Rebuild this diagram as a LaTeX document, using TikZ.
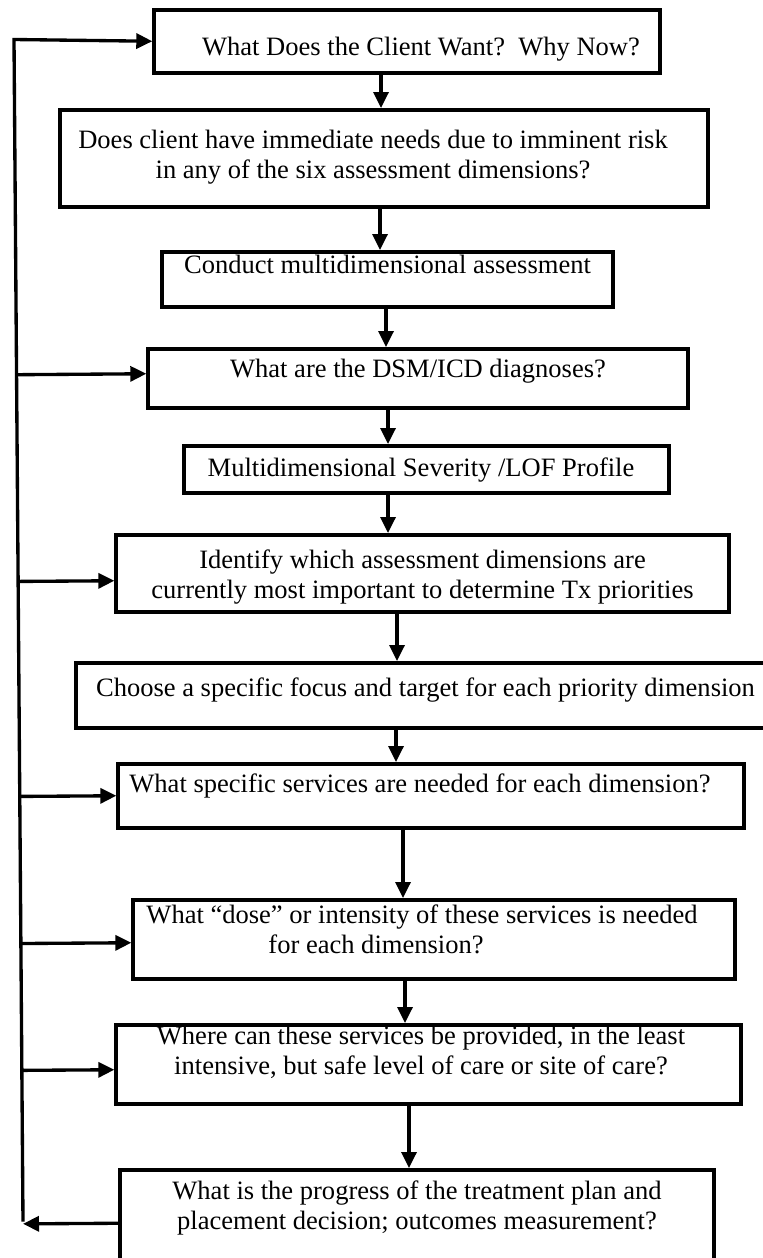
\documentclass[tikz,border=0pt]{standalone}
\usepackage{fontspec}
\setmainfont{Liberation Serif}
\usetikzlibrary{arrows.meta,calc}
\frenchspacing

\begin{document}
\begin{tikzpicture}[x=0.02cm,y=-0.02cm,
  every node/.style={font=\fontsize{15.1}{17.1}\selectfont},
  stage/.style={draw,line width=2pt,align=center,anchor=north,
                inner xsep=0pt,inner ysep=0pt},
  flow/.style={line width=1.9pt,-{Triangle[length=0.32cm,width=0.3cm]}}
]
\useasboundingbox (0,0) rectangle (763,1258);

\node[stage,minimum width=10.12cm,text height=0.92cm,text depth=0.34cm] (B1) at (407,8)
  {\hspace*{0.56cm}What Does the Client Want?\ \ Why Now?};
\node[stage,minimum width=12.96cm,text height=1.38cm,text depth=0.56cm] (B2) at (384,108)
  {Does client have immediate needs due to imminent risk\hspace*{0.44cm}\\in any of the six assessment dimensions?\hspace*{0.44cm}};
\node[stage,minimum width=9.02cm,text height=0.44cm,text depth=0.66cm] (B3) at (387.5,250)
  {Conduct multidimensional assessment};
\node[stage,minimum width=10.80cm,text height=0.58cm,text depth=0.60cm] (B4) at (418,347)
  {What are the DSM/ICD diagnoses?};
\node[stage,minimum width=9.70cm,text height=0.62cm,text depth=0.32cm] (B5) at (426.5,444)
  {Multidimensional Severity /LOF Profile\hspace*{0.22cm}};
\node[stage,minimum width=12.26cm,text height=1.28cm,text depth=0.26cm] (B6) at (422.5,533)
  {Identify which assessment dimensions are\\currently most important to determine Tx priorities};
\node[stage,minimum width=13.98cm,text height=0.68cm,text depth=0.62cm] (B7) at (425.5,661)
  {Choose a specific focus and target for each priority dimension};
\node[stage,minimum width=12.52cm,text height=0.58cm,text depth=0.70cm] (B8) at (431,762)
  {What specific services are needed for each dimension?\hspace*{0.44cm}};
\node[stage,minimum width=12.04cm,text height=1.08cm,text depth=0.50cm] (B9) at (434,898)
  {What “dose” or intensity of these services is needed\hspace*{0.48cm}\\for each dimension?\hspace*{2.32cm}};
\node[stage,minimum width=12.50cm,text height=1.00cm,text depth=0.58cm] (B10) at (428.5,1023)
  {Where can these services be provided, in the least\hspace*{0.3cm}\\intensive, but safe level of care or site of care?\hspace*{0.3cm}};
\node[stage,minimum width=11.88cm,text height=1.20cm,text depth=0.94cm] (B11) at (417,1168)
  {What is the progress of the treatment plan and\\placement decision; outcomes measurement?};

\draw[flow] ([xshift=-0.52cm]B1.south) -- ([xshift=-0.52cm]B1.south |- B2.north);
\draw[flow] ([xshift=-0.08cm]B2.south) -- ([xshift=-0.08cm]B2.south |- B3.north);
\draw[flow] ([xshift=-0.03cm]B3.south) -- ([xshift=-0.03cm]B3.south |- B4.north);
\draw[flow] ([xshift=-0.60cm]B4.south) -- ([xshift=-0.60cm]B4.south |- B5.north);
\draw[flow] ([xshift=-0.77cm]B5.south) -- ([xshift=-0.77cm]B5.south |- B6.north);
\draw[flow] ([xshift=-0.51cm]B6.south) -- ([xshift=-0.51cm]B6.south |- B7.north);
\draw[flow] ([xshift=-0.59cm]B7.south) -- ([xshift=-0.59cm]B7.south |- B8.north);
\draw[flow] ([xshift=-0.56cm]B8.south) -- ([xshift=-0.56cm]B8.south |- B9.north);
\draw[flow] ([xshift=-0.58cm]B9.south) -- ([xshift=-0.58cm]B9.south |- B10.north);
\draw[flow] ([xshift=-0.39cm]B10.south) -- ([xshift=-0.39cm]B10.south |- B11.north);

% feedback loop on the left
\coordinate (stop) at (14,39.5);
\coordinate (sbot) at (23,1221.5);
\coordinate (f4) at ([yshift=0.09cm]B4.west);
\coordinate (f6) at ([yshift=-0.15cm]B6.west);
\coordinate (f8) at (B8.west);
\coordinate (f9) at ([yshift=-0.07cm]B9.west);
\coordinate (f10) at ([yshift=-0.11cm]B10.west);

\draw[flow] (sbot) -- (stop) -- (B1.west);
\draw[flow] ($(stop)!(f4)!(sbot)$) -- (f4);
\draw[flow] ($(stop)!(f6)!(sbot)$) -- (f6);
\draw[flow] ($(stop)!(f8)!(sbot)$) -- (f8);
\draw[flow] ($(stop)!(f9)!(sbot)$) -- (f9);
\draw[flow] ($(stop)!(f10)!(sbot)$) -- (f10);
\draw[flow] (B11.west) -- ($(stop)!(B11.west)!(sbot)$);
\end{tikzpicture}
\end{document}
